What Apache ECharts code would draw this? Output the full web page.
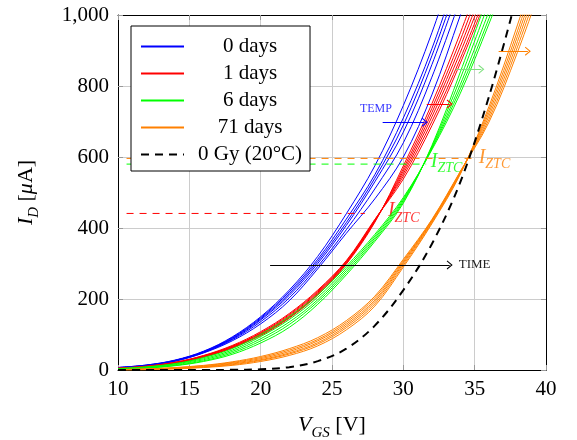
<!DOCTYPE html>
<html>
<head>
<meta charset="utf-8">
<script src="https://cdn.jsdelivr.net/npm/echarts@6/dist/echarts.min.js"></script>
<style>
  html, body { margin: 0; padding: 0; background: #fff; }
  #chart { width: 577px; height: 440px; }
</style>
</head>
<body>
<div id="chart"></div>
<script>
// gate voltage grid (V) shared by all curves
const vgs = [10, 12, 14, 16, 18, 20, 22, 24, 26, 28, 30, 32, 34, 36, 38, 40];

// drain current (uA), one array per temperature curve
const days0 = [
  [7, 14, 28, 53, 93, 150, 225, 320, 440, 575, 745, 950, 1190],
  [7, 14, 27, 52, 91, 147, 220, 312, 425, 550, 710, 905, 1140],
  [7, 13, 27, 51, 89, 144, 215, 306, 415, 540, 690, 885, 1110],
  [6, 13, 26, 50, 87, 141, 210, 300, 407, 530, 670, 860, 1085],
  [6, 12, 25, 49, 85, 136, 203, 292, 395, 510, 640, 825, 1045],
  [6, 12, 25, 48, 82, 130, 195, 285, 385, 482, 600, 775, 1000, 1230]
];
const days1 = [
  [4, 9, 19, 36, 62, 97, 146, 211, 298, 416, 575, 750, 950, 1170],
  [4, 9, 20, 37, 63, 99, 148, 213, 300, 418, 567, 737, 930, 1145],
  [4, 10, 20, 38, 64, 101, 150, 216, 302, 420, 560, 725, 912, 1120],
  [5, 10, 21, 39, 66, 103, 153, 219, 304, 421, 553, 713, 895, 1100],
  [5, 10, 21, 40, 67, 105, 156, 222, 306, 423, 546, 700, 878, 1080],
  [5, 11, 22, 41, 69, 108, 159, 225, 308, 424, 538, 688, 865, 1065]
];
const days6 = [
  [2, 5, 12, 24, 44, 76, 120, 185, 268, 362, 470, 632, 840, 1060],
  [2, 6, 13, 26, 48, 82, 128, 192, 274, 367, 474, 629, 822, 1035],
  [3, 7, 15, 29, 52, 88, 135, 198, 280, 372, 478, 626, 805, 1010],
  [3, 8, 17, 32, 56, 94, 142, 205, 286, 377, 482, 623, 792, 990, 1200],
  [4, 9, 18, 35, 60, 100, 150, 212, 292, 382, 486, 620, 780, 975, 1180]
];
const days71 = [
  [0, 1, 3, 7, 13, 24, 41, 68, 113, 180, 290, 412, 552, 742, 972, 1220],
  [0, 1, 4, 8, 15, 27, 45, 73, 119, 186, 295, 415, 554, 733, 955, 1200],
  [1, 2, 5, 9, 17, 29, 48, 77, 124, 192, 300, 418, 556, 724, 940, 1180],
  [1, 2, 5, 10, 19, 32, 52, 82, 129, 197, 304, 420, 557, 715, 925, 1160],
  [1, 3, 6, 12, 21, 35, 56, 86, 134, 203, 308, 422, 559, 706, 910, 1140],
  [1, 3, 7, 13, 23, 38, 60, 91, 139, 208, 312, 424, 560, 698, 895, 1120]
];
const unirradiated = [0, 0, 0, 0, 0.5, 2, 8, 25, 60, 125, 225, 355, 530, 770, 1060];

const legendNames = ['0 days', '1 days', '6 days', '71 days', '0 Gy (20°C)'];

// zero temperature coefficient levels: [current, start V, end V, label V, label I]
const ztcRed = [441, 10.6, 27.3, 28.92, 448];
const ztcGreen = [580, 10.6, 31.6, 31.92, 587];
const ztcOrange = [596, 10.6, 35.0, 35.28, 599];

// arrows: [x start, x end, current]
const tempArrow = [28.55, 31.5, 698];
const redArrow = [31.64, 33.25, 749];
const greenArrow = [33.67, 35.47, 847];
const orangeArrow = [36.68, 38.73, 898];
const timeArrow = [20.66, 33.25, 296];
const tempText = [28.08, 735];

const FONT = 'Liberation Serif';
const BLUE = '#0000ff', RED = '#ff0000', GREEN = '#00ff00', ORANGE = '#ff8000';
const ARROW = 'path://M5,0 L10,9 L9,10 L5,2.8 L1,10 L0,9 Z';

function curve(name, color, vals) {
  return {
    type: 'line', name: name,
    data: vals.map((v, i) => [vgs[i], v]),
    symbol: 'none', smooth: 0.35,
    lineStyle: { color: color, width: 1 }, itemStyle: { color: color },
    silent: true
  };
}

function ztcLine(z, color) {
  return {
    type: 'line', name: 'ztc' + color,
    data: [[z[1], z[0]], [z[2], z[0]]],
    symbol: 'none', silent: true,
    lineStyle: { color: color, width: 1, type: [7, 6] }, itemStyle: { color: color }
  };
}

function ztcLabel(z, color) {
  return {
    value: [z[3], z[4]],
    label: {
      show: true, position: 'right', distance: 0,
      formatter: '{i|I}{s|ZTC}',
      rich: {
        i: { fontFamily: FONT, fontStyle: 'italic', fontSize: 20, color: color },
        s: { fontFamily: FONT, fontStyle: 'italic', fontSize: 14, color: color, lineHeight: 28, verticalAlign: 'bottom' }
      }
    }
  };
}

function arrow(a, color, label) {
  return [
    { coord: [a[0], a[2]], lineStyle: { color: color, width: 1, type: 'solid' }, label: label || { show: false } },
    { coord: [a[1], a[2]] }
  ];
}

const series = [];
days0.forEach(v => series.push(curve(legendNames[0], BLUE, v)));
days1.forEach(v => series.push(curve(legendNames[1], RED, v)));
days6.forEach(v => series.push(curve(legendNames[2], GREEN, v)));
days71.forEach(v => series.push(curve(legendNames[3], ORANGE, v)));
series.push(ztcLine(ztcRed, RED), ztcLine(ztcGreen, GREEN), ztcLine(ztcOrange, ORANGE));
series.push({
  type: 'line', name: legendNames[4],
  data: unirradiated.map((v, i) => [vgs[i], v]),
  symbol: 'none', smooth: 0.35, silent: true,
  lineStyle: { color: '#000', width: 2, type: [8, 6] }, itemStyle: { color: '#000' },
  markLine: {
    silent: true, symbol: ['none', ARROW], symbolSize: [9, 6],
    label: { show: false },
    data: [
      arrow(tempArrow, BLUE),
      arrow(redArrow, RED),
      arrow(greenArrow, '#80e080'),
      arrow(orangeArrow, ORANGE),
      arrow(timeArrow, '#000', {
        show: true, position: 'end', distance: 9, formatter: 'TIME',
        fontFamily: FONT, fontSize: 13, color: '#222'
      })
    ]
  }
});
series.push({
  type: 'scatter', name: 'labels', symbolSize: 0, silent: true,
  data: [
    ztcLabel(ztcRed, RED), ztcLabel(ztcGreen, GREEN), ztcLabel(ztcOrange, ORANGE),
    { value: tempText, label: { show: true, position: 'inside', formatter: 'TEMP',
      fontFamily: FONT, fontSize: 12, color: BLUE } }
  ]
});

const tickFont = { fontFamily: FONT, fontSize: 21, color: '#000' };
const nameRich = {
  i: { fontFamily: FONT, fontStyle: 'italic', fontSize: 22, color: '#000' },
  s: { fontFamily: FONT, fontStyle: 'italic', fontSize: 15, color: '#000', lineHeight: 31, verticalAlign: 'bottom' }
};
const axisLine = { show: true, onZero: false, lineStyle: { color: '#000', width: 1 } };
const tick = { show: true, inside: true, length: 5, lineStyle: { color: '#999' } };

const option = {
  animation: false,
  backgroundColor: '#fff',
  grid: { left: 118, top: 15, width: 428, height: 355, outerBoundsMode: 'none', containLabel: false },
  legend: {
    data: legendNames, orient: 'vertical', left: 131, top: 26,
    backgroundColor: '#fff', borderColor: '#000', borderWidth: 1, borderRadius: 0,
    padding: [10, 8, 6, 9], itemWidth: 43, itemHeight: 14, itemGap: 6,
    selectedMode: false,
    itemStyle: { opacity: 0 },
    formatter: n => '{c|' + n + '}',
    textStyle: {
      fontFamily: FONT, fontSize: 21, color: '#000',
      rich: { c: { width: 122, align: 'center', fontFamily: FONT, fontSize: 21, color: '#000' } }
    }
  },
  xAxis: [{
    type: 'value', min: 10, max: 40, interval: 5,
    axisLine: axisLine, axisTick: tick,
    axisLabel: Object.assign({ margin: 9 }, tickFont),
    splitLine: { show: true, lineStyle: { color: '#cccccc', width: 1 } },
    name: '{i|V}{s|GS} [V]', nameLocation: 'middle', nameGap: 40,
    nameTextStyle: { fontFamily: FONT, fontSize: 22, color: '#000', rich: nameRich }
  }, {
    type: 'value', min: 10, max: 40, interval: 5, position: 'top',
    axisLine: axisLine, axisTick: tick, axisLabel: { show: false }, splitLine: { show: false }
  }],
  yAxis: [{
    type: 'value', min: 0, max: 1000, interval: 200,
    axisLine: axisLine, axisTick: tick,
    axisLabel: Object.assign({ margin: 9,
      formatter: v => String(v).replace(/(\d)(?=(\d{3})+$)/, '$1,') }, tickFont),
    splitLine: { show: true, lineStyle: { color: '#cccccc', width: 1 } },
    name: '{i|I}{s|D} [{i|μ}A]', nameLocation: 'middle', nameRotate: 90, nameGap: 76,
    nameTextStyle: { fontFamily: FONT, fontSize: 22, color: '#000', rich: nameRich }
  }, {
    type: 'value', min: 0, max: 1000, interval: 200, position: 'right',
    axisLine: axisLine, axisTick: tick, axisLabel: { show: false }, splitLine: { show: false }
  }],
  series: series
};

const chart = echarts.init(document.getElementById('chart'), null, { renderer: 'canvas' });
chart.setOption(option);
</script>
</body>
</html>
